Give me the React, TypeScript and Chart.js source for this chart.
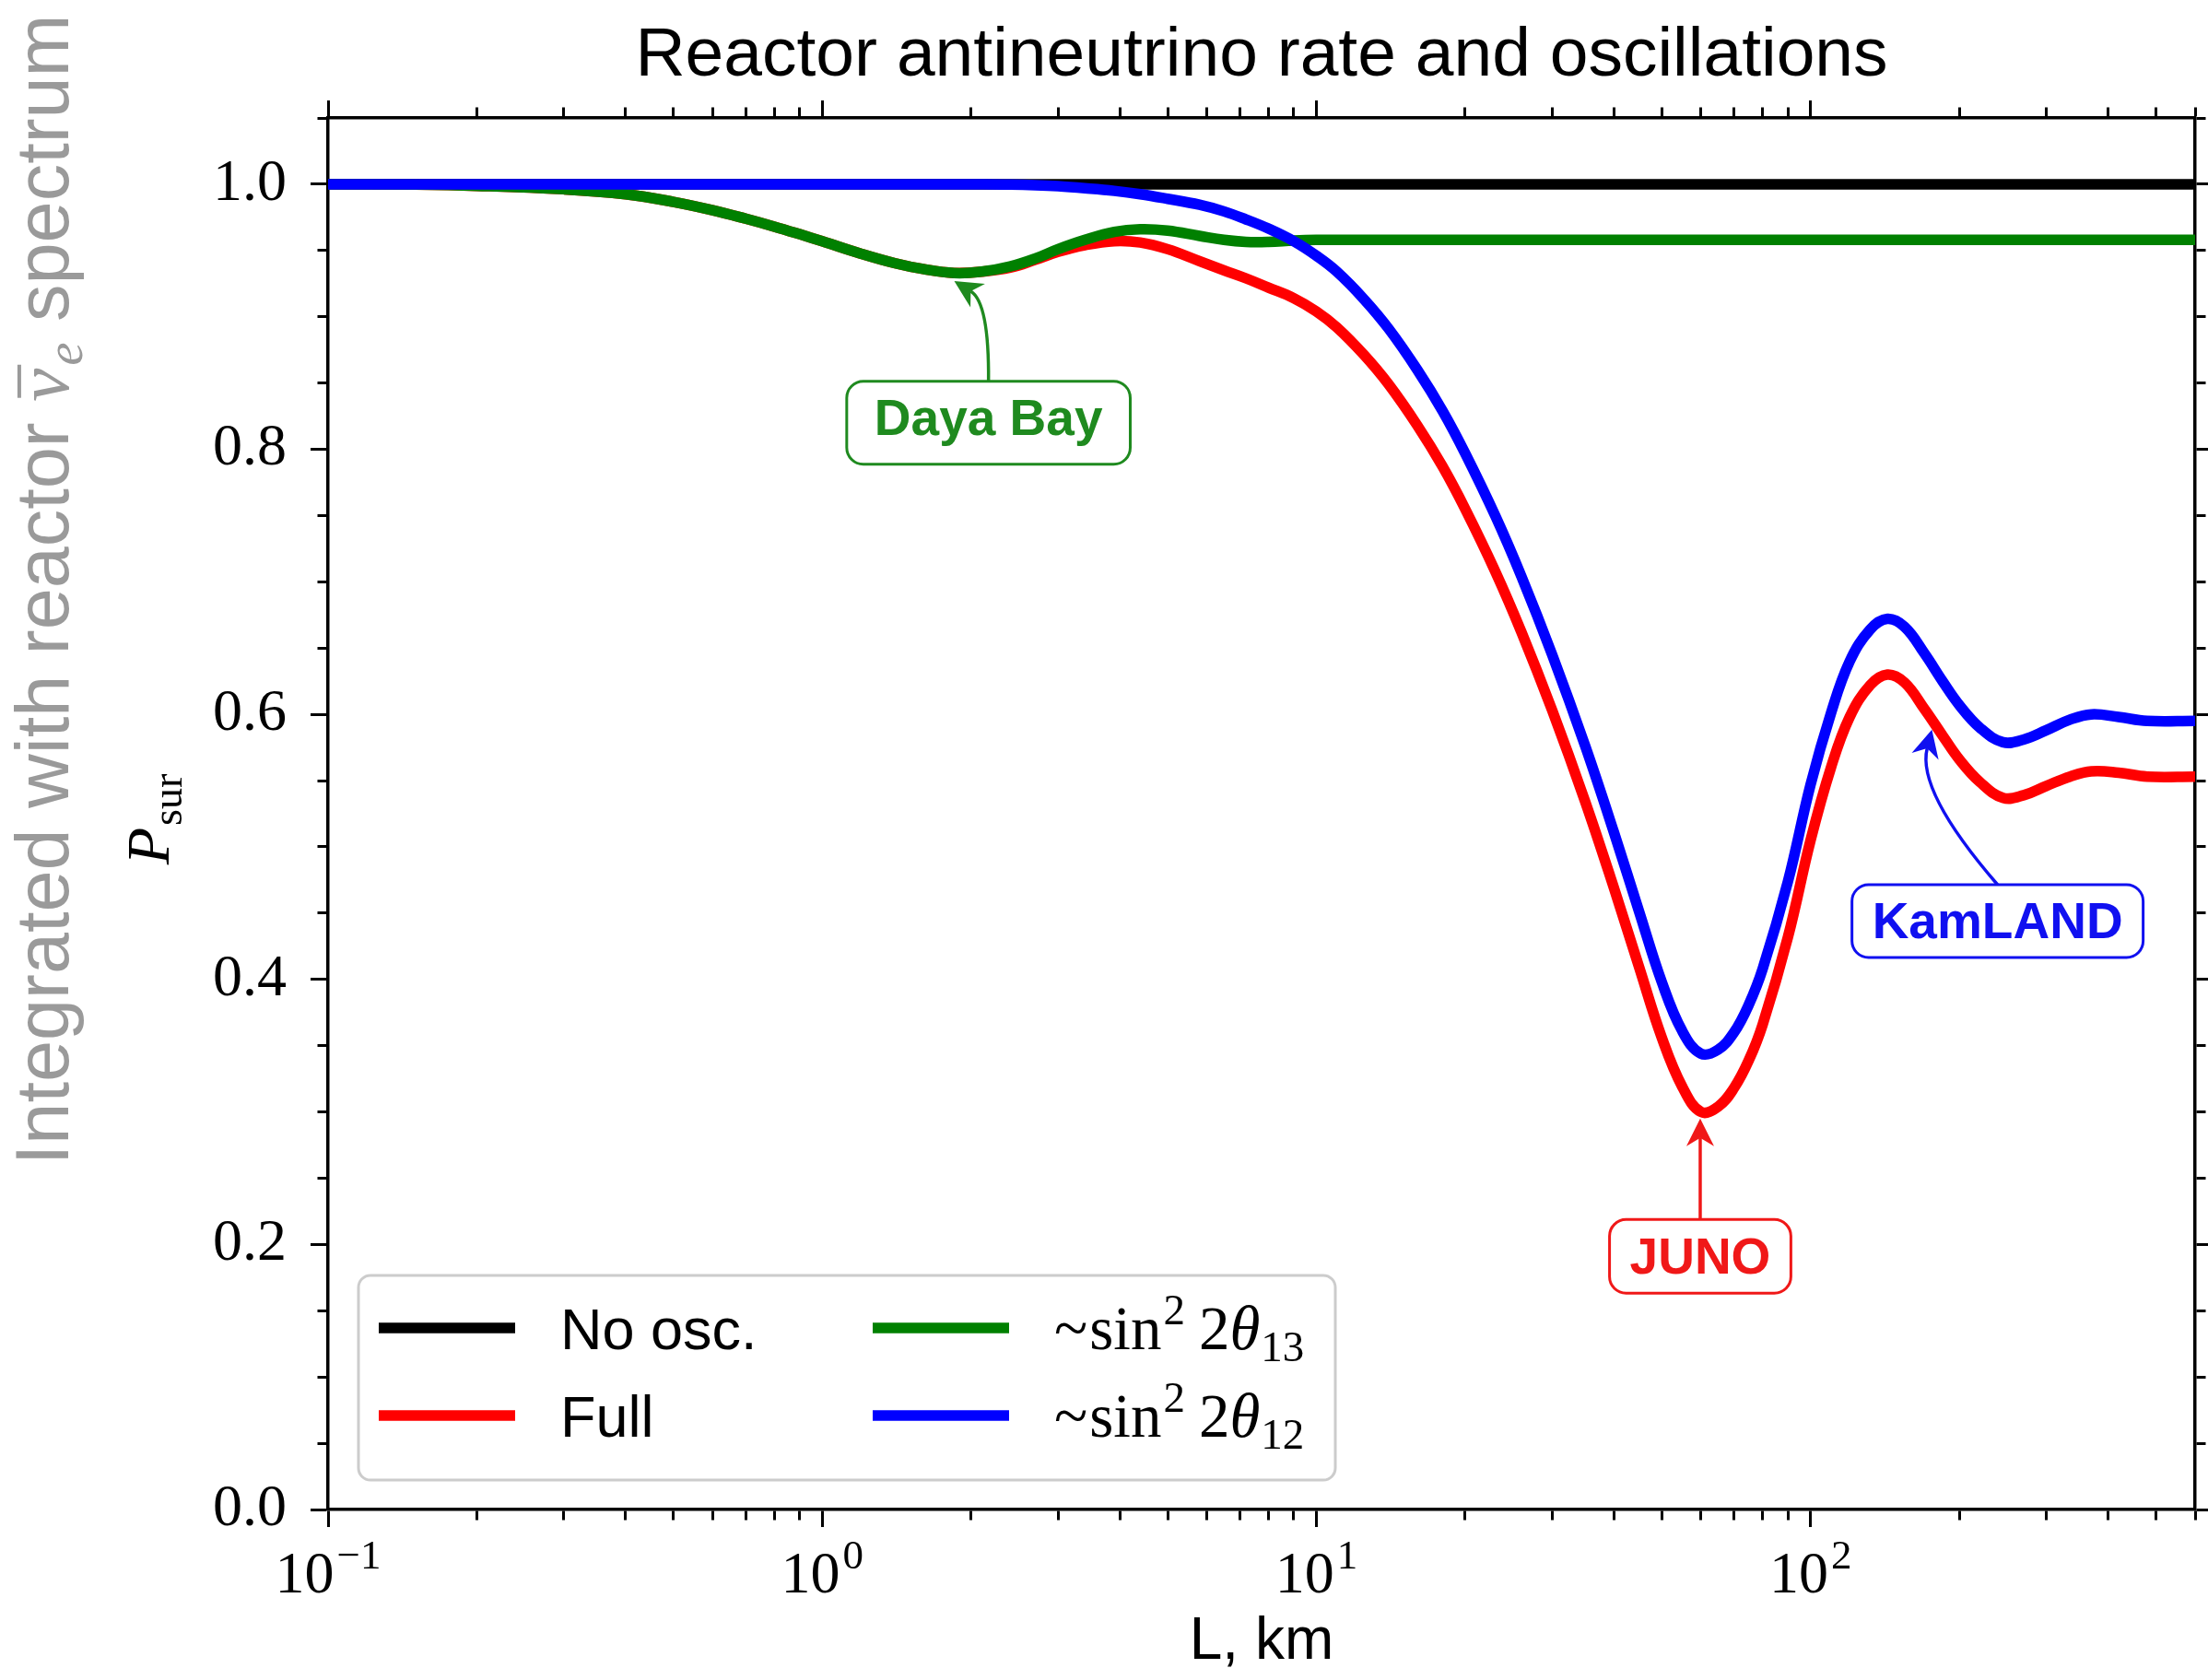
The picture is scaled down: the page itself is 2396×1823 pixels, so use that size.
import React, { useEffect, useRef } from 'react';
import { Chart, registerables } from 'chart.js';

Chart.register(...registerables);

// ---------------- data ----------------
const L_KM = [
  0.1, 0.15, 0.2, 0.3, 0.4, 0.5, 0.6, 0.7, 0.8, 0.9,
  1.0, 1.2, 1.4, 1.6, 1.85, 2.1, 2.4, 2.7, 3.0, 3.4,
  3.9, 4.4, 5.0, 5.8, 6.5, 7.2, 8.0, 9.0, 10, 11,
  12.5, 14, 16, 18, 20, 23, 26, 30, 35, 40,
  45, 50, 55, 60, 65, 70, 75, 80, 90, 100,
  110, 120, 132, 143, 155, 170, 185, 200, 220, 245,
  270, 300, 335, 370, 420, 480, 600,
];

const P_SIN13 = [
  1.0, 0.9997, 0.9988, 0.9962, 0.9925, 0.9867, 0.9804, 0.974, 0.968, 0.9623,
  0.957, 0.9475, 0.9405, 0.936, 0.933, 0.934, 0.938, 0.944, 0.951, 0.958,
  0.964, 0.966, 0.965, 0.961, 0.958, 0.9565, 0.9565, 0.9575, 0.958, 0.958,
  0.958, 0.958, 0.958, 0.958, 0.958, 0.958, 0.958, 0.958, 0.958, 0.958,
  0.958, 0.958, 0.958, 0.958, 0.958, 0.958, 0.958, 0.958, 0.958, 0.958,
  0.958, 0.958, 0.958, 0.958, 0.958, 0.958, 0.958, 0.958, 0.958, 0.958,
  0.958, 0.958, 0.958, 0.958, 0.958, 0.958, 0.958,
];

const P_FULL = [
  1.0, 0.9997, 0.9988, 0.9962, 0.9925, 0.9867, 0.9804, 0.974, 0.968, 0.9623,
  0.957, 0.9475, 0.9405, 0.936, 0.933, 0.934, 0.937, 0.943, 0.949, 0.954,
  0.957, 0.956, 0.951, 0.942, 0.935, 0.929, 0.922, 0.914, 0.904, 0.892,
  0.871, 0.849, 0.818, 0.787, 0.755, 0.708, 0.662, 0.603, 0.534, 0.469,
  0.409, 0.356, 0.319, 0.3, 0.304, 0.318, 0.339, 0.366, 0.432, 0.505,
  0.56, 0.598, 0.622, 0.63, 0.624, 0.604, 0.584, 0.566, 0.549, 0.537,
  0.539, 0.546, 0.553, 0.557, 0.556, 0.553, 0.553,
];

const P_SIN12 = [
  1.0, 1.0, 1.0, 1.0, 1.0, 1.0, 1.0, 1.0, 1.0, 1.0,
  1.0, 1.0, 1.0, 1.0, 1.0, 1.0, 0.9998, 0.9993, 0.9985, 0.997,
  0.995, 0.9925, 0.989, 0.9845, 0.9795, 0.9735, 0.9665, 0.957, 0.946, 0.934,
  0.913, 0.891, 0.86, 0.829, 0.797, 0.75, 0.704, 0.645, 0.576, 0.511,
  0.451, 0.398, 0.361, 0.344, 0.347, 0.36, 0.381, 0.408, 0.474, 0.547,
  0.601, 0.64, 0.664, 0.672, 0.666, 0.646, 0.625, 0.607, 0.59, 0.579,
  0.581, 0.588, 0.596, 0.6, 0.598, 0.595, 0.595,
];

const NO_OSC_L = [0.1, 600];
const NO_OSC_P = [1.0, 1.0];

const SERIES_LABELS = ['No osc.', 'Full', '~sin^2 2θ_13', '~sin^2 2θ_12'];
const SERIES_COLORS = ['#000000', '#ff0000', '#008000', '#0000ff'];

const X_RANGE = [0.1, 600];
const Y_RANGE = [0, 1.05];
const Y_MAJOR = 0.2;
const Y_MINOR = 0.05;

const TITLE = 'Reactor antineutrino rate and oscillations';
const X_TITLE = 'L, km';
const Y_TITLE_MAIN = 'P';
const Y_TITLE_SUB = 'sur';
const Y_NOTE_PRE = 'Integrated with reactor ';
const Y_NOTE_NU = 'ν';
const Y_NOTE_SUB = 'e';
const Y_NOTE_POST = ' spectrum';

const ANNOT_LABELS = ['Daya Bay', 'JUNO', 'KamLAND'];
const ANNOT_TIP_L = [1.85, 59.8, 176];
const ANNOT_TIP_P = [0.927, 0.295, 0.5885];
const ANNOT_TEXT_L = [2.17, 59.8, 239];
const ANNOT_TEXT_P = [0.82, 0.191, 0.444];

// ---------------- style ----------------
const ANNOT_COLORS = ['#1f8a1f', '#f01818', '#1010f0'];
const ANNOT_ALONG = [0.7, 0.5, 0.7];
const ANNOT_BEND = [0.246, 0, -0.2265];
const ANNOT_PADX = [30, 22, 22];

const LINE_W = 11.5;
const SANS = '"Liberation Sans", "DejaVu Sans", Arial, sans-serif';
const SERIF = '"Liberation Serif", "DejaVu Serif", "Times New Roman", serif';

const W = 2396;
const H = 1823;

const isMajorY = (v: number) =>
  v !== undefined && Math.abs(v / Y_MAJOR - Math.round(v / Y_MAJOR)) < 1e-6;
const isMajorX = (v: number) =>
  v !== undefined && v > 0 && Math.abs(Math.log10(v) - Math.round(Math.log10(v))) < 1e-6;

function buildYTicks() {
  const out: { value: number }[] = [];
  const n = Math.round((Y_RANGE[1] - Y_RANGE[0]) / Y_MINOR);
  for (let i = 0; i <= n; i++) out.push({ value: +(Y_RANGE[0] + i * Y_MINOR).toFixed(4) });
  return out;
}

function buildXTicks() {
  const out: { value: number }[] = [];
  const e0 = Math.floor(Math.log10(X_RANGE[0]));
  const e1 = Math.ceil(Math.log10(X_RANGE[1]));
  for (let e = e0; e <= e1; e++) {
    for (let k = 1; k <= 9; k++) {
      const v = Number((k * Math.pow(10, e)).toPrecision(8));
      if (v >= X_RANGE[0] * 0.999999 && v <= X_RANGE[1] * 1.000001) out.push({ value: v });
    }
  }
  return out;
}

function roundRectPath(ctx: CanvasRenderingContext2D, x: number, y: number, w: number, h: number, r: number) {
  ctx.beginPath();
  ctx.moveTo(x + r, y);
  ctx.lineTo(x + w - r, y);
  ctx.arcTo(x + w, y, x + w, y + r, r);
  ctx.lineTo(x + w, y + h - r);
  ctx.arcTo(x + w, y + h, x + w - r, y + h, r);
  ctx.lineTo(x + r, y + h);
  ctx.arcTo(x, y + h, x, y + h - r, r);
  ctx.lineTo(x, y + r);
  ctx.arcTo(x, y, x + r, y, r);
  ctx.closePath();
}

function drawLegendLabel(ctx: CanvasRenderingContext2D, label: string, x: number, y: number) {
  const m = /^~sin\^2 2θ_(\d+)$/.exec(label);
  ctx.textAlign = 'left';
  ctx.textBaseline = 'alphabetic';
  ctx.fillStyle = '#000';
  if (!m) {
    ctx.font = `63px ${SANS}`;
    ctx.fillText(label, x, y);
    return;
  }
  let cx = x;
  ctx.font = `67px ${SERIF}`;
  ctx.fillText('~', cx, y);
  cx += ctx.measureText('~').width + 2;
  ctx.fillText('sin', cx, y);
  cx += ctx.measureText('sin').width + 2;
  ctx.font = `47px ${SERIF}`;
  ctx.fillText('2', cx, y - 27);
  cx += ctx.measureText('2').width + 15;
  ctx.font = `67px ${SERIF}`;
  ctx.fillText('2', cx, y);
  cx += ctx.measureText('2').width;
  ctx.font = `italic 67px ${SERIF}`;
  ctx.fillText('θ', cx, y);
  cx += ctx.measureText('θ').width + 1;
  ctx.font = `47px ${SERIF}`;
  ctx.fillText(m[1], cx, y + 13);
}

const decorPlugin = {
  id: 'decor',
  afterDraw(chart: any) {
    const { ctx, chartArea: ca, scales } = chart;
    const xs = scales.x;
    const ys = scales.y;
    ctx.save();

    // Title
    ctx.fillStyle = '#000';
    ctx.font = `75px ${SANS}`;
    ctx.textAlign = 'center';
    ctx.textBaseline = 'alphabetic';
    ctx.fillText(TITLE, (ca.left + ca.right) / 2, 82);

    // X tick labels (10^n)
    for (const t of xs.ticks) {
      if (!isMajorX(t.value)) continue;
      const e = Math.round(Math.log10(t.value));
      const px = xs.getPixelForValue(t.value);
      const es = e < 0 ? '\u2212' + String(-e) : String(e);
      ctx.font = `64px ${SERIF}`;
      const wb = ctx.measureText('10').width;
      ctx.font = `45px ${SERIF}`;
      const we = ctx.measureText(es).width;
      const x0 = px - (wb + we + 3) / 2;
      ctx.textAlign = 'left';
      ctx.font = `64px ${SERIF}`;
      ctx.fillText('10', x0, ca.bottom + 90);
      ctx.font = `45px ${SERIF}`;
      ctx.fillText(es, x0 + wb + 3, ca.bottom + 64);
    }

    // Y title P_sur (rotated)
    ctx.save();
    ctx.translate(183, (ca.top + ca.bottom) / 2 + 6);
    ctx.rotate(-Math.PI / 2);
    ctx.font = `italic 66px ${SERIF}`;
    const wP = ctx.measureText(Y_TITLE_MAIN).width;
    ctx.font = `46px ${SERIF}`;
    const wS = ctx.measureText(Y_TITLE_SUB).width;
    let px0 = -(wP + wS + 2) / 2;
    ctx.textAlign = 'left';
    ctx.font = `italic 66px ${SERIF}`;
    ctx.fillText(Y_TITLE_MAIN, px0, 0);
    px0 += wP + 2;
    ctx.font = `46px ${SERIF}`;
    ctx.fillText(Y_TITLE_SUB, px0, 14);
    ctx.restore();

    // Grey note along the left edge
    ctx.save();
    ctx.translate(74, 640);
    ctx.rotate(-Math.PI / 2);
    ctx.fillStyle = '#9a9a9a';
    const fs = 81;
    ctx.font = `${fs}px ${SANS}`;
    const w1 = ctx.measureText(Y_NOTE_PRE).width;
    const w3 = ctx.measureText(Y_NOTE_POST).width;
    ctx.font = `italic ${fs}px ${SERIF}`;
    const wNu = ctx.measureText(Y_NOTE_NU).width;
    ctx.font = `italic ${Math.round(fs * 0.7)}px ${SERIF}`;
    const wE = ctx.measureText(Y_NOTE_SUB).width;
    const total = w1 + wNu + 3 + wE + w3;
    let gx = -total / 2;
    ctx.textAlign = 'left';
    ctx.font = `${fs}px ${SANS}`;
    ctx.fillText(Y_NOTE_PRE, gx, 0);
    gx += w1;
    ctx.font = `italic ${fs}px ${SERIF}`;
    ctx.fillText(Y_NOTE_NU, gx, 0);
    ctx.fillRect(gx + 4, -fs * 0.68, wNu, 4);
    gx += wNu + 3;
    ctx.font = `italic ${Math.round(fs * 0.7)}px ${SERIF}`;
    ctx.fillText(Y_NOTE_SUB, gx, 15);
    gx += wE;
    ctx.font = `${fs}px ${SANS}`;
    ctx.fillText(Y_NOTE_POST, gx, 0);
    ctx.restore();

    // Legend
    const lw = 1060;
    const lh = 222;
    const lx = ca.left + 33;
    const ly = ca.bottom - 32 - lh;
    roundRectPath(ctx, lx, ly, lw, lh, 13);
    ctx.fillStyle = 'rgba(255,255,255,0.85)';
    ctx.fill();
    ctx.strokeStyle = '#cccccc';
    ctx.lineWidth = 3;
    ctx.stroke();
    const rowY = [ly + 57, ly + 152];
    const colX = [lx + 22, lx + 558];
    const ds = chart.data.datasets;
    for (let i = 0; i < ds.length; i++) {
      const col = Math.floor(i / 2);
      const row = i % 2;
      const hx = colX[col];
      const hy = rowY[row];
      ctx.strokeStyle = ds[i].borderColor;
      ctx.lineWidth = LINE_W;
      ctx.lineCap = 'butt';
      ctx.beginPath();
      ctx.moveTo(hx, hy);
      ctx.lineTo(hx + 148, hy);
      ctx.stroke();
      drawLegendLabel(ctx, ds[i].label, hx + 197, hy + 23);
    }

    // Annotations
    for (let i = 0; i < ANNOT_LABELS.length; i++) {
      const color = ANNOT_COLORS[i];
      const label = ANNOT_LABELS[i];
      const tx = xs.getPixelForValue(ANNOT_TIP_L[i]);
      const ty = ys.getPixelForValue(ANNOT_TIP_P[i]);
      const cx = xs.getPixelForValue(ANNOT_TEXT_L[i]);
      const cy = ys.getPixelForValue(ANNOT_TEXT_P[i]);
      ctx.font = `bold 55px ${SANS}`;
      const m = ctx.measureText(label);
      const asc = m.actualBoundingBoxAscent;
      const desc = m.actualBoundingBoxDescent;
      const bw = m.width + 2 * ANNOT_PADX[i];
      const bh = asc + desc + 40;
      const bx = cx - bw / 2;
      const by = cy - bh / 2;

      const sx = cx;
      const sy = by;
      const dx = tx - sx;
      const dy = ty - sy;
      const qx = sx + ANNOT_ALONG[i] * dx + ANNOT_BEND[i] * -dy;
      const qy = sy + ANNOT_ALONG[i] * dy + ANNOT_BEND[i] * dx;
      let ux = tx - qx;
      let uy = ty - qy;
      const ul = Math.hypot(ux, uy) || 1;
      ux /= ul;
      uy /= ul;
      const hl = 30;
      const hw = 15;
      const nx = tx - ux * hl * 0.7;
      const ny = ty - uy * hl * 0.7;
      ctx.strokeStyle = color;
      ctx.fillStyle = color;
      ctx.lineWidth = 3.5;
      ctx.beginPath();
      ctx.moveTo(sx, sy);
      ctx.quadraticCurveTo(qx, qy, nx, ny);
      ctx.stroke();
      const bxh = tx - ux * hl;
      const byh = ty - uy * hl;
      ctx.beginPath();
      ctx.moveTo(tx, ty);
      ctx.lineTo(bxh - uy * hw, byh + ux * hw);
      ctx.lineTo(nx, ny);
      ctx.lineTo(bxh + uy * hw, byh - ux * hw);
      ctx.closePath();
      ctx.fill();

      roundRectPath(ctx, bx, by, bw, bh, 18);
      ctx.fillStyle = '#ffffff';
      ctx.fill();
      ctx.lineWidth = 3;
      ctx.strokeStyle = color;
      ctx.stroke();
      ctx.fillStyle = color;
      ctx.textAlign = 'center';
      ctx.textBaseline = 'alphabetic';
      ctx.fillText(label, cx, cy + (asc - desc) / 2);
    }

    ctx.restore();
  },
};

function makeDataset(label: string, color: string, xsArr: number[], ysArr: number[], order: number) {
  return {
    label,
    data: xsArr.map((x, i) => ({ x, y: ysArr[i] })),
    borderColor: color,
    backgroundColor: color,
    borderWidth: LINE_W,
    pointRadius: 0,
    fill: false,
    tension: 0.4,
    order,
    xAxisID: 'x',
    yAxisID: 'y',
  };
}

const BORDER = { display: true, color: '#000', width: 3.5 };

export default function App() {
  const ref = useRef<HTMLCanvasElement>(null);

  useEffect(() => {
    const canvas = ref.current;
    if (!canvas) return;
    const chart = new Chart(canvas, {
      type: 'line',
      data: {
        datasets: [
          makeDataset(SERIES_LABELS[0], SERIES_COLORS[0], NO_OSC_L, NO_OSC_P, 3),
          makeDataset(SERIES_LABELS[1], SERIES_COLORS[1], L_KM, P_FULL, 2),
          makeDataset(SERIES_LABELS[2], SERIES_COLORS[2], L_KM, P_SIN13, 1),
          makeDataset(SERIES_LABELS[3], SERIES_COLORS[3], L_KM, P_SIN12, 0),
        ],
      },
      options: {
        responsive: false,
        animation: false,
        devicePixelRatio: 1,
        events: [],
        layout: { padding: 0 },
        elements: { line: { borderJoinStyle: 'round', borderCapStyle: 'butt' } },
        plugins: {
          legend: { display: false },
          tooltip: { enabled: false },
          title: { display: false },
        },
        scales: {
          x: {
            type: 'logarithmic',
            position: 'bottom',
            min: X_RANGE[0],
            max: X_RANGE[1],
            afterBuildTicks: (s: any) => {
              s.ticks = buildXTicks();
            },
            afterFit: (s: any) => {
              s.height = 185;
            },
            ticks: { display: false, autoSkip: false },
            grid: {
              display: true,
              drawOnChartArea: false,
              drawTicks: true,
              tickLength: 19,
              tickWidth: 3,
              tickColor: '#000',
              tickBorderDash: (c: any) => (isMajorX(c.tick?.value) ? [] : [10, 200]),
            },
            border: BORDER,
            title: {
              display: true,
              text: X_TITLE,
              color: '#000',
              font: { family: SANS, size: 64 },
              padding: { top: 0, bottom: 2 },
            },
          },
          x2: {
            type: 'logarithmic',
            position: 'top',
            min: X_RANGE[0],
            max: X_RANGE[1],
            afterBuildTicks: (s: any) => {
              s.ticks = buildXTicks();
            },
            afterFit: (s: any) => {
              s.height = 128;
            },
            ticks: { display: false, autoSkip: false },
            grid: {
              display: true,
              drawOnChartArea: false,
              drawTicks: true,
              tickLength: 19,
              tickWidth: 3,
              tickColor: '#000',
              tickBorderDash: (c: any) => (isMajorX(c.tick?.value) ? [] : [0, 7.5, 10, 200]),
            },
            border: BORDER,
          },
          y: {
            type: 'linear',
            position: 'left',
            min: Y_RANGE[0],
            max: Y_RANGE[1],
            afterBuildTicks: (s: any) => {
              s.ticks = buildYTicks();
            },
            afterFit: (s: any) => {
              s.width = 356;
            },
            ticks: {
              autoSkip: false,
              padding: 26,
              color: '#000',
              font: { family: SERIF, size: 64 },
              callback: (v: any) => (isMajorY(Number(v)) ? Number(v).toFixed(1) : ''),
            },
            grid: {
              display: true,
              drawOnChartArea: false,
              drawTicks: true,
              tickLength: 19,
              tickWidth: 3,
              tickColor: '#000',
              tickBorderDash: (c: any) => (isMajorY(c.tick?.value) ? [] : [0, 7.5, 10, 200]),
            },
            border: BORDER,
          },
          y2: {
            type: 'linear',
            position: 'right',
            min: Y_RANGE[0],
            max: Y_RANGE[1],
            afterBuildTicks: (s: any) => {
              s.ticks = buildYTicks();
            },
            afterFit: (s: any) => {
              s.width = 14;
            },
            ticks: { display: false, autoSkip: false },
            grid: {
              display: true,
              drawOnChartArea: false,
              drawTicks: true,
              tickLength: 19,
              tickWidth: 3,
              tickColor: '#000',
              tickBorderDash: (c: any) => (isMajorY(c.tick?.value) ? [] : [10, 200]),
            },
            border: BORDER,
          },
        },
      },
      plugins: [decorPlugin],
    } as any);
    return () => chart.destroy();
  }, []);

  return (
    <canvas
      ref={ref}
      width={W}
      height={H}
      style={{ position: 'fixed', left: 0, top: 0, width: `${W}px`, height: `${H}px`, background: '#ffffff' }}
    />
  );
}
